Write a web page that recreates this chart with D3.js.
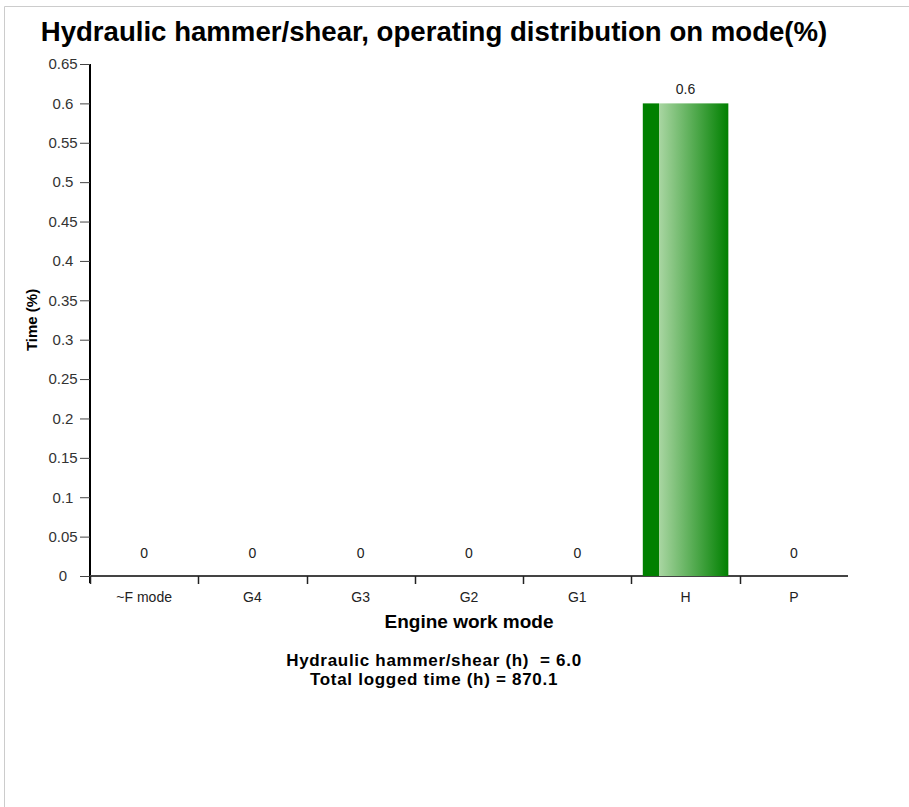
<!DOCTYPE html>
<html>
<head>
<meta charset="utf-8">
<script src="https://cdnjs.cloudflare.com/ajax/libs/d3/7.8.5/d3.min.js"></script>
<style>
  html, body { margin: 0; padding: 0; background: #fff; }
  svg { display: block; font-family: "Liberation Sans", Arial, sans-serif; }
</style>
</head>
<body>
<svg id="chart" width="909" height="807"></svg>
<script>
// Engine work modes and share of hydraulic hammer/shear time (%)
const modes = ["~F mode", "G4", "G3", "G2", "G1", "H", "P"];
const timeShare = [0, 0, 0, 0, 0, 0.6, 0];
const yTicks = [0, 0.05, 0.1, 0.15, 0.2, 0.25, 0.3, 0.35, 0.4, 0.45, 0.5, 0.55, 0.6, 0.65];
const titleText = "Hydraulic hammer/shear, operating distribution on mode(%)";
const footerLines = ["Hydraulic hammer/shear (h)  = 6.0", "Total logged time (h) = 870.1"];

const FONT = "Liberation Sans, Arial, sans-serif";
const svg = d3.select("#chart");
const margin = { left: 90, right: 61, top: 64, bottom: 231 };
const W = 909, H = 807;
const plotW = W - margin.left - margin.right;
const plotH = H - margin.top - margin.bottom;

// frame lines along the top and left of the panel
svg.append("line").attr("x1", 4.5).attr("x2", W).attr("y1", 6.5).attr("y2", 6.5)
  .attr("stroke", "#ccc").attr("stroke-width", 1);
svg.append("line").attr("x1", 4.5).attr("x2", 4.5).attr("y1", 6.5).attr("y2", H)
  .attr("stroke", "#ccc").attr("stroke-width", 1);

const defs = svg.append("defs");
const grad = defs.append("linearGradient").attr("id", "barGrad")
  .attr("x1", "0%").attr("x2", "100%").attr("y1", "0%").attr("y2", "0%");
grad.append("stop").attr("offset", "0%").attr("stop-color", "#008000");
grad.append("stop").attr("offset", "19%").attr("stop-color", "#008000");
grad.append("stop").attr("offset", "19%").attr("stop-color", "#a9d6a2");
grad.append("stop").attr("offset", "100%").attr("stop-color", "#008000");

const g = svg.append("g").attr("transform", `translate(${margin.left},${margin.top})`);

const x = d3.scaleBand().domain(modes).range([0, plotW]).padding(0);
const y = d3.scaleLinear().domain([0, 0.65]).range([plotH, 0]);

// y axis with centred tick labels
const yAxis = g.append("g").call(d3.axisLeft(y).tickValues(yTicks).tickSize(10).tickFormat(d => d3.format("~g")(d)));
yAxis.select(".domain").attr("stroke", "#000").attr("stroke-width", 2).attr("d", `M0,0V${plotH + 7}`);
yAxis.selectAll(".tick line").attr("stroke", "#444");
yAxis.selectAll(".tick text").attr("fill", "#333").attr("font-size", 15)
  .attr("font-family", FONT).attr("text-anchor", "middle").attr("x", -27);

// x axis: ticks at band boundaries
const xAxisG = g.append("g").attr("transform", `translate(0,${plotH})`);
xAxisG.append("line").attr("x1", 0).attr("x2", plotW).attr("y1", 0).attr("y2", 0)
  .attr("stroke", "#444").attr("stroke-width", 2);
xAxisG.selectAll(".xt").data(modes).join("line").attr("class", "xt")
  .attr("x1", d => Math.round(x(d)) + 0.5)
  .attr("x2", d => Math.round(x(d)) + 0.5)
  .attr("y1", 0).attr("y2", 8).attr("stroke", "#222").attr("stroke-width", 1.5);
xAxisG.selectAll(".xl").data(modes).join("text").attr("class", "xl")
  .attr("x", d => x(d) + x.bandwidth() / 2)
  .attr("y", 26).attr("text-anchor", "middle").attr("font-size", 14).attr("fill", "#222")
  .text(d => d);

// bars
const barW = x.bandwidth() * 0.79;
g.selectAll(".bar").data(modes).join("rect").attr("class", "bar")
  .attr("x", d => x(d) + (x.bandwidth() - barW) / 2)
  .attr("width", barW)
  .attr("y", (d, i) => y(timeShare[i]))
  .attr("height", (d, i) => plotH - y(timeShare[i]))
  .attr("fill", "url(#barGrad)");

// value labels
g.selectAll(".val").data(modes).join("text").attr("class", "val")
  .attr("x", d => x(d) + x.bandwidth() / 2)
  .attr("y", (d, i) => timeShare[i] > 0 ? y(timeShare[i]) - 9 : plotH - 18)
  .attr("text-anchor", "middle").attr("font-size", 14).attr("fill", "#222")
  .text((d, i) => d3.format("~g")(timeShare[i]));

// title
svg.append("text").attr("x", 434).attr("y", 41).attr("text-anchor", "middle")
  .attr("font-size", 27.6).attr("font-weight", "bold").attr("fill", "#000").text(titleText);

// axis titles
svg.append("text").attr("transform", `translate(37,${margin.top + plotH / 2}) rotate(-90)`)
  .attr("text-anchor", "middle").attr("font-size", 15).attr("font-weight", "bold").text("Time (%)");
svg.append("text").attr("x", margin.left + plotW / 2).attr("y", 628).attr("text-anchor", "middle")
  .attr("font-size", 19).attr("font-weight", "bold").text("Engine work mode");

// footer summary
svg.selectAll(".foot").data(footerLines).join("text").attr("class", "foot")
  .attr("x", 434).attr("y", (d, i) => 666 + i * 19).attr("text-anchor", "middle")
  .attr("font-size", 17).attr("letter-spacing", 0.7).attr("font-weight", "bold")
  .style("white-space", "pre").text(d => d);
</script>
</body>
</html>
